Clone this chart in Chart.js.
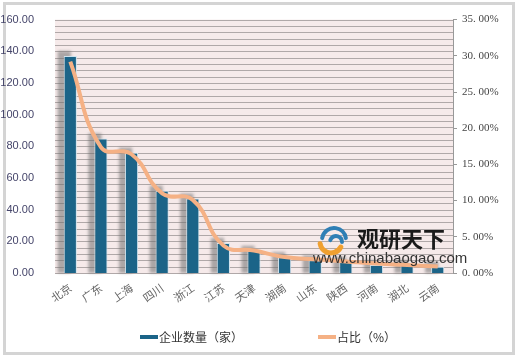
<!DOCTYPE html>
<html><head><meta charset="utf-8">
<script src="https://cdn.jsdelivr.net/npm/chart.js@4"></script>
<style>html,body{margin:0;padding:0;background:#fff}#wrap{width:520px;height:361px;position:relative}</style>
</head><body><div id="wrap"><canvas id="c" width="520" height="361"></canvas></div>
<script>
const categories = ['北京','广东','上海','四川','浙江','江苏','天津','湖南','山东','陕西','河南','湖北','云南'];
const companyCounts = [137, 85, 76, 52, 47, 19, 14, 10, 8, 7, 5, 5, 4];
const sharePercent = [29.2, 17.4, 16.4, 11.0, 10.1, 3.8, 3.1, 2.2, 1.9, 1.6, 1.3, 1.1, 0.9];
const leftTicks = [0, 20, 40, 60, 80, 100, 120, 140, 160];
const rightTicks = [0, 5, 10, 15, 20, 25, 30, 35];
const seriesNames = ['企业数量（家）', '占比（%）'];
const watermark = ['观研天下', 'www.chinabaogao.com'];

const BAR = '#1b6488', LINE = '#f5b185';
const CJK = '"Noto Sans CJK SC", "Liberation Serif", serif';

const frame = {
  id: 'frame',
  beforeDraw(chart) {
    const ctx = chart.ctx;
    ctx.save();
    ctx.fillStyle = '#fff';
    ctx.fillRect(0, 0, chart.width, chart.height);
    ctx.strokeStyle = '#d4d4d4';
    ctx.lineWidth = 3;
    ctx.strokeRect(4.5, 3.5, 509, 350);
    ctx.restore();
  },
  beforeDatasetsDraw(chart) {
    const ctx = chart.ctx;
    const a = chart.chartArea;
    const ys = chart.scales.y;
    ctx.save();
    ctx.fillStyle = '#f6eaea';
    ctx.fillRect(a.left, a.top, a.right - a.left, a.bottom - a.top);
    const vals = ys.ticks.map(t => t.value);
    ctx.lineWidth = 1;
    ctx.strokeStyle = '#b0a8a8';
    ctx.beginPath();
    vals.forEach(v => {
      const py = Math.round(ys.getPixelForValue(v)) + 0.5;
      ctx.moveTo(a.left, py); ctx.lineTo(a.right, py);
    });
    ctx.stroke();
    // bar shadows
    const meta = chart.getDatasetMeta(0);
    ctx.fillStyle = 'rgba(110,110,110,0.55)';
    ctx.filter = 'blur(1.5px)';
    meta.data.forEach(b => {
      const w = b.width;
      ctx.fillRect(b.x - w / 2 - 6, b.y - 5, w, b.base - b.y + 5);
    });
    ctx.restore();
  },
  afterDraw(chart) {
    const ctx = chart.ctx;
    ctx.save();
    ctx.lineCap = 'round';
    ctx.lineWidth = 4;
    ctx.strokeStyle = '#2f7fb5';
    ctx.beginPath(); ctx.arc(334, 240, 12, Math.PI * 1.05, Math.PI * 1.95); ctx.stroke();
    ctx.beginPath(); ctx.arc(336, 242, 6, Math.PI * 1.1, Math.PI * 2.0); ctx.stroke();
    ctx.strokeStyle = '#f0a030';
    ctx.lineWidth = 5;
    ctx.beginPath(); ctx.arc(331, 242, 11, Math.PI * 0.15, Math.PI * 0.95); ctx.stroke();
    ctx.fillStyle = '#1a1a1a';
    ctx.font = 'bold 22px "Noto Sans CJK SC", sans-serif';
    ctx.textBaseline = 'middle';
    ctx.fillText(watermark[0], 357, 239);
    ctx.fillStyle = '#333';
    ctx.font = '15px "Liberation Sans", Arial, sans-serif';
    ctx.fillText(watermark[1], 313, 259);
    const items = [
      {x: 140, text: chart.data.datasets[0].label, color: BAR},
      {x: 318, text: chart.data.datasets[1].label, color: LINE}
    ];
    const y = 337;
    ctx.font = '12px ' + CJK;
    items.forEach(it => {
      ctx.strokeStyle = it.color;
      ctx.lineWidth = 4;
      ctx.lineCap = 'butt';
      ctx.beginPath(); ctx.moveTo(it.x, y); ctx.lineTo(it.x + 18, y); ctx.stroke();
      ctx.fillStyle = '#333';
      ctx.fillText(it.text, it.x + 19, y);
    });
    ctx.restore();
  }
};

new Chart(document.getElementById('c'), {
  type: 'bar',
  data: {
    labels: categories,
    datasets: [
      {label: seriesNames[0], data: companyCounts, backgroundColor: BAR, borderColor: '#cfe3ee', borderWidth: 1,
       yAxisID: 'y', order: 2, barPercentage: 0.43, categoryPercentage: 1.0},
      {label: seriesNames[1], data: sharePercent, type: 'line', borderColor: LINE, borderWidth: 4,
       pointRadius: 0, tension: 0.45, yAxisID: 'y1', order: 1, fill: false}
    ]
  },
  options: {
    responsive: false,
    animation: false,
    devicePixelRatio: 1,
    layout: {padding: {top: 12, left: 0, right: 0, bottom: 0}},
    plugins: {legend: {display: false}, tooltip: {enabled: false}},
    scales: {
      x: {
        grid: {display: false},
        border: {display: false},
        ticks: {minRotation: 35, maxRotation: 35, color: '#666', font: {size: 11, family: CJK}, padding: 0},
        afterFit(s) { s.height = 88; }
      },
      y: {
        position: 'left', min: 0, max: 160,
        afterBuildTicks(s) {
          const t = [];
          for (let v = 0; v <= 160; v += 4) t.push({value: v});
          s.ticks = t;
        },
        grid: {display: false},
        border: {display: false},
        ticks: {
          autoSkip: false, padding: 13, color: '#45456a',
          font: {size: 11, family: '"Liberation Sans", Arial, sans-serif'},
          callback: v => leftTicks.includes(v) ? v.toFixed(2) : ''
        },
        afterFit(s) { s.width = 55; }
      },
      y1: {
        position: 'right', min: 0, max: 35,
        afterBuildTicks(s) { s.ticks = rightTicks.map(v => ({value: v})); },
        grid: {drawOnChartArea: false, color: '#999', tickLength: 4},
        border: {display: true, color: '#999'},
        ticks: {
          padding: 5, color: '#444',
          font: {size: 11, family: '"Liberation Serif", serif'},
          callback: v => v.toFixed(2).replace('.', '. ') + '%'
        },
        afterFit(s) { s.width = 67; }
      }
    }
  },
  plugins: [frame]
});
</script></body></html>
